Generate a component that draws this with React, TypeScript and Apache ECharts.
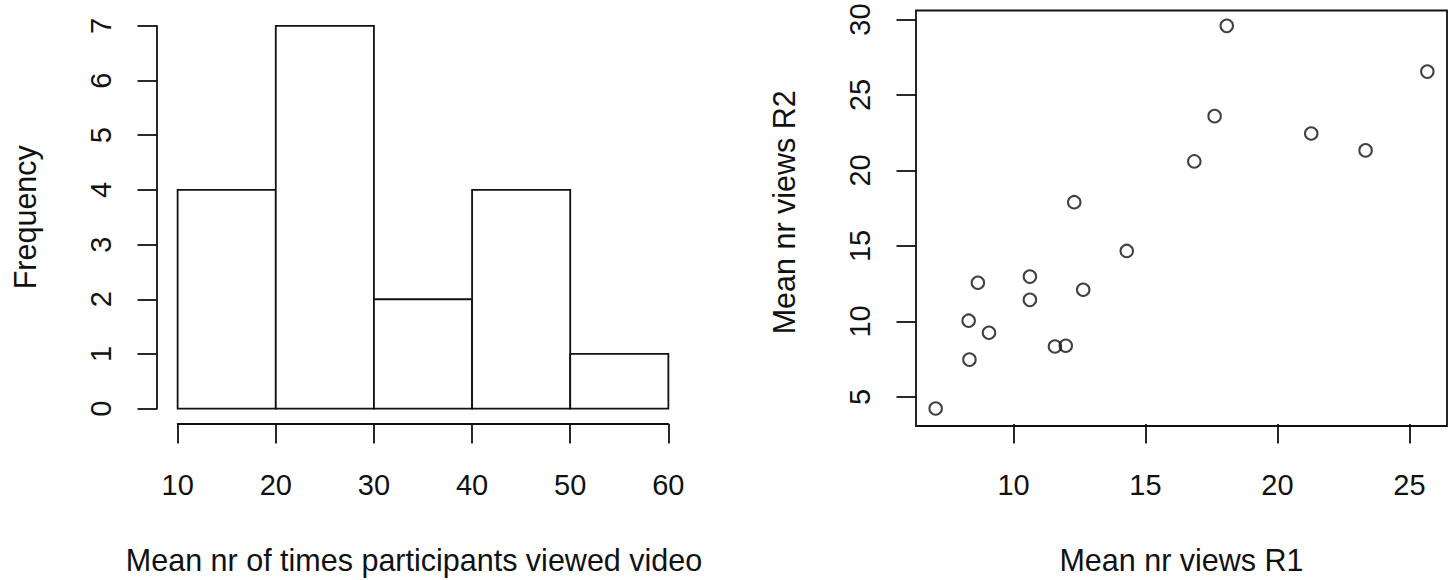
import React, { useEffect, useRef } from "react";
import * as echarts from "echarts";

// Histogram data
const HIST_LO = [10, 20, 30, 40, 50];
const HIST_HI = [20, 30, 40, 50, 60];
const HIST_COUNTS = [4, 7, 2, 4, 1];
const HIST_X_RANGE = [10, 60];
const HIST_X_STEP = 10;
const HIST_Y_RANGE = [0, 7];
const HIST_Y_STEP = 1;

// Scatter data
const R1 = [7.05, 8.33, 8.3, 8.65, 9.07, 10.62, 10.62, 11.57, 11.98, 12.3, 12.64, 14.29, 16.85, 17.62, 18.08, 21.28, 23.34, 25.68];
const R2 = [4.23, 7.47, 10.05, 12.56, 9.25, 12.97, 11.43, 8.34, 8.39, 17.9, 12.1, 14.67, 20.6, 23.6, 29.58, 22.45, 21.33, 26.55];
const SC_X_TICKS = [10, 25];
const SC_X_STEP = 5;
const SC_Y_TICKS = [5, 30];
const SC_Y_STEP = 5;

const FONT = "'Liberation Sans', Arial, sans-serif";
const INK = "#111";

export default function App() {
  const ref = useRef<HTMLDivElement>(null);
  useEffect(() => {
    if (!ref.current) return;
    const chart = echarts.init(ref.current, null, { renderer: "svg" });

    // R-like plot regions (pixels)
    const HBOX = { left: 158, right: 688, top: 10.5, bottom: 426 };
    const SBOX = { left: 916, right: 1447, top: 10.5, bottom: 426 };

    // histogram: 4% extension of the tick range
    const hxLo = HIST_X_RANGE[0] - 0.04 * (HIST_X_RANGE[1] - HIST_X_RANGE[0]);
    const hxHi = HIST_X_RANGE[1] + 0.04 * (HIST_X_RANGE[1] - HIST_X_RANGE[0]);
    const hyLo = HIST_Y_RANGE[0] - 0.04 * (HIST_Y_RANGE[1] - HIST_Y_RANGE[0]);
    const hyHi = HIST_Y_RANGE[1] + 0.04 * (HIST_Y_RANGE[1] - HIST_Y_RANGE[0]);
    const hW = HBOX.right - HBOX.left;
    const hH = HBOX.bottom - HBOX.top;
    const hgLeft = HBOX.left + ((HIST_X_RANGE[0] - hxLo) / (hxHi - hxLo)) * hW;
    const hgRight = HBOX.left + ((HIST_X_RANGE[1] - hxLo) / (hxHi - hxLo)) * hW;
    const hgTop = HBOX.top + ((hyHi - HIST_Y_RANGE[1]) / (hyHi - hyLo)) * hH;
    const hgBottom = HBOX.top + ((hyHi - HIST_Y_RANGE[0]) / (hyHi - hyLo)) * hH;

    // scatter: 4% extension of data range
    const xmin = Math.min(...R1), xmax = Math.max(...R1);
    const ymin = Math.min(...R2), ymax = Math.max(...R2);
    const sxLo = xmin - 0.04 * (xmax - xmin), sxHi = xmax + 0.04 * (xmax - xmin);
    const syLo = ymin - 0.04 * (ymax - ymin), syHi = ymax + 0.04 * (ymax - ymin);
    const sW = SBOX.right - SBOX.left;
    const sH = SBOX.bottom - SBOX.top;
    const sgLeft = SBOX.left + ((SC_X_TICKS[0] - sxLo) / (sxHi - sxLo)) * sW;
    const sgRight = SBOX.left + ((SC_X_TICKS[1] - sxLo) / (sxHi - sxLo)) * sW;
    const sgTop = SBOX.top + ((syHi - SC_Y_TICKS[1]) / (syHi - syLo)) * sH;
    const sgBottom = SBOX.top + ((syHi - SC_Y_TICKS[0]) / (syHi - syLo)) * sH;

    // shift names so they centre on the R plot box rather than on the tick range
    const sxShift = (sgLeft + sgRight) / 2 - (SBOX.left + SBOX.right) / 2; // px to move left
    const syShift = (SBOX.top + SBOX.bottom) / 2 - 5 - (sgTop + sgBottom) / 2; // px to move down

    const labelStyle = { color: INK, fontFamily: FONT, fontSize: 29 };
    const nameStyle = { color: INK, fontFamily: FONT, fontSize: 30.5 };
    const lineStyle = { color: INK, width: 1.8 };
    const TICK = 19.5;

    chart.setOption({
      animation: false,
      backgroundColor: "#fff",
      grid: [
        { left: hgLeft, top: hgTop, width: hgRight - hgLeft, height: hgBottom - hgTop, containLabel: false },
        { left: sgLeft, top: sgTop, width: sgRight - sgLeft, height: sgBottom - sgTop, containLabel: false },
        {
          left: SBOX.left, top: SBOX.top, width: sW, height: sH,
          show: true, borderColor: INK, borderWidth: 1.8, backgroundColor: "transparent",
        },
      ],
      xAxis: [
        {
          gridIndex: 0, type: "value", min: HIST_X_RANGE[0], max: HIST_X_RANGE[1], interval: HIST_X_STEP,
          offset: HBOX.bottom - hgBottom,
          axisLine: { show: true, onZero: false, lineStyle },
          axisTick: { show: true, length: TICK, lineStyle },
          axisLabel: { ...labelStyle, margin: 46 },
          splitLine: { show: false },
          name: "Mean nr of times participants viewed video",
          nameLocation: "middle", nameGap: 120,
          nameTextStyle: { ...nameStyle, padding: [0, 18, 0, 0] },
        },
        {
          gridIndex: 1, type: "value", min: SC_X_TICKS[0], max: SC_X_TICKS[1], interval: SC_X_STEP,
          offset: SBOX.bottom - sgBottom,
          axisLine: { show: false, onZero: false },
          axisTick: { show: true, length: TICK, lineStyle },
          axisLabel: { ...labelStyle, margin: 46 },
          splitLine: { show: false },
          name: "Mean nr views R1",
          nameLocation: "middle", nameGap: 120,
          nameTextStyle: { ...nameStyle, padding: [0, Math.max(0, 2 * sxShift), 0, 0] },
        },
        { gridIndex: 2, type: "value", show: false, min: 0, max: 1 },
      ],
      yAxis: [
        {
          gridIndex: 0, type: "value", min: HIST_Y_RANGE[0], max: HIST_Y_RANGE[1], interval: HIST_Y_STEP,
          offset: hgLeft - HBOX.left + 1,
          axisLine: { show: true, onZero: false, lineStyle },
          axisTick: { show: true, length: TICK, lineStyle },
          axisLabel: { ...labelStyle, margin: 42, rotate: 90 },
          splitLine: { show: false },
          name: "Frequency",
          nameLocation: "middle", nameGap: 117, nameRotate: 90,
          nameTextStyle: { ...nameStyle },
        },
        {
          gridIndex: 1, type: "value", min: SC_Y_TICKS[0], max: SC_Y_TICKS[1], interval: SC_Y_STEP,
          offset: sgLeft - SBOX.left,
          axisLine: { show: false, onZero: false },
          axisTick: { show: true, length: TICK, lineStyle },
          axisLabel: { ...labelStyle, margin: 42, rotate: 90 },
          splitLine: { show: false },
          name: "Mean nr views R2",
          nameLocation: "middle", nameGap: 117, nameRotate: 90,
          nameTextStyle: { ...nameStyle, padding: [0, Math.max(0, 2 * syShift), 0, 0] },
        },
        { gridIndex: 2, type: "value", show: false, min: 0, max: 1 },
      ],
      series: [
        {
          type: "custom",
          xAxisIndex: 0,
          yAxisIndex: 0,
          encode: { x: [0, 1], y: 2 },
          data: HIST_LO.map((lo, i) => [lo, HIST_HI[i], HIST_COUNTS[i]]),
          renderItem: (params: any, api: any) => {
            const p0 = api.coord([api.value(0), api.value(2)]);
            const p1 = api.coord([api.value(1), 0]);
            return {
              type: "rect",
              shape: { x: p0[0], y: p0[1], width: p1[0] - p0[0], height: p1[1] - p0[1] },
              style: { fill: "#fff", stroke: INK, lineWidth: 1.8 },
            };
          },
        },
        {
          type: "scatter",
          xAxisIndex: 1,
          yAxisIndex: 1,
          clip: false,
          symbol: "circle",
          symbolSize: 12.5,
          itemStyle: { color: "rgba(0,0,0,0)", borderColor: INK, borderWidth: 2 },
          data: R1.map((x, i) => [x, R2[i]]),
        },
      ],
    });
    return () => chart.dispose();
  }, []);
  return <div ref={ref} style={{ position: "absolute", left: 0, top: 0, width: 1453, height: 580 }} />;
}
